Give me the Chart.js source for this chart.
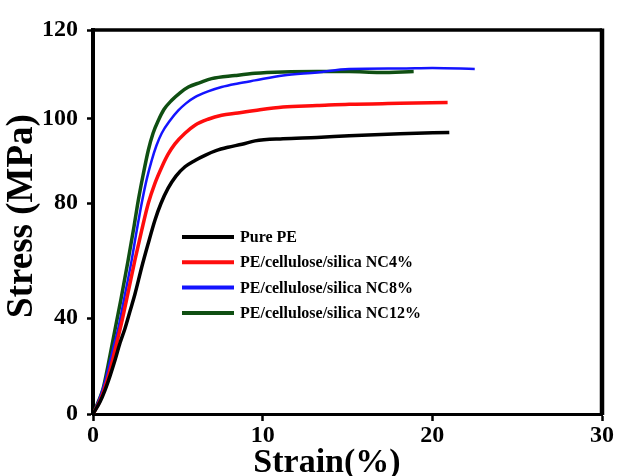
<!DOCTYPE html>
<html><head><meta charset="utf-8">
<script src="https://cdn.jsdelivr.net/npm/chart.js@4/dist/chart.umd.min.js"></script>
<style>html,body{margin:0;padding:0;background:#fff;}canvas{display:block;}</style>
</head><body>
<canvas id="c" width="617" height="476"></canvas>
<script>
// ---- data ----
const seriesLabels = ['Pure PE', 'PE/cellulose/silica NC4%', 'PE/cellulose/silica NC8%', 'PE/cellulose/silica NC12%'];

const strainPurePE = [0, 0.41, 0.71, 1.0, 1.30, 1.59, 1.89, 2.18, 2.47, 2.87, 3.24, 3.65, 4.01, 4.42, 4.89, 5.42, 6.01, 6.60, 7.25, 7.96, 8.78, 9.55, 11.2, 13.2, 15.1, 18.1, 21.0];
const stressPurePE = [0, 5.0, 10.0, 15.8, 22.5, 29.6, 35.8, 42.4, 48.3, 57.7, 65.7, 74.1, 80.0, 83.5, 86.4, 88.6, 90.1, 91.3, 92.4, 93.2, 93.9, 94.7, 95.2, 95.5, 95.9, 96.4, 96.7];

const strainNC4 = [0, 0.35, 0.65, 0.94, 1.18, 1.41, 1.68, 2.06, 2.47, 2.86, 3.26, 3.65, 4.05, 4.42, 4.83, 5.42, 6.01, 6.78, 7.58, 8.54, 9.55, 11.2, 13.2, 15.1, 18.1, 20.9];
const stressNC4 = [0, 4.6, 10.0, 16.7, 23.3, 30.0, 37.9, 48.7, 60.2, 70.3, 80.0, 84.7, 88.5, 91.5, 94.0, 96.5, 98.4, 99.8, 100.7, 101.2, 101.8, 102.6, 102.9, 103.2, 103.4, 103.6];

const strainNC8 = [0, 0.35, 0.65, 0.94, 1.21, 1.49, 1.83, 2.28, 2.56, 2.87, 3.15, 3.46, 3.74, 4.05, 4.54, 5.03, 5.48, 6.01, 6.78, 7.58, 8.54, 9.55, 11.2, 13.2, 15.1, 18.1, 20.0, 22.5];
const stressNC8 = [0, 5.8, 12.1, 20.0, 27.9, 35.8, 46.6, 60.2, 69.9, 80.0, 85.4, 90.1, 93.6, 96.5, 99.5, 101.8, 103.4, 104.8, 106.1, 107.1, 107.9, 108.6, 109.7, 110.4, 111.2, 111.3, 111.4, 111.2];

const strainNC12 = [0, 0.35, 0.59, 0.88, 1.12, 1.36, 1.65, 2.06, 2.42, 2.67, 2.95, 3.26, 3.54, 3.85, 4.18, 4.64, 5.13, 5.62, 6.31, 6.99, 8.37, 9.55, 11.2, 13.2, 15.1, 16.9, 18.9];
const stressNC12 = [0, 5.8, 10.4, 20.0, 28.75, 37.5, 46.6, 59.8, 72.0, 80.7, 86.6, 92.5, 96.5, 99.5, 102.0, 104.1, 105.8, 107.1, 108.1, 109.0, 109.7, 110.2, 110.5, 110.6, 110.6, 110.4, 110.6];

const xTickValues = [0, 10, 20, 30];
const yTickValues = [0, 40, 80, 100, 120];

// ---- axis layout (the original y axis has uneven tick spacing) ----
const Y_TICK_FRACTIONS = [0, 0.2497, 0.5488, 0.7698, 1];

function toFrac(v) {
  const t = yTickValues, f = Y_TICK_FRACTIONS;
  if (v <= t[0]) return f[0] + (v - t[0]) / (t[1] - t[0]) * (f[1] - f[0]);
  for (let i = 1; i < t.length; i++) {
    if (v <= t[i]) return f[i - 1] + (v - t[i - 1]) / (t[i] - t[i - 1]) * (f[i] - f[i - 1]);
  }
  const n = t.length - 1;
  return f[n] + (v - t[n]) / (t[n] - t[n - 1]) * (f[n] - f[n - 1]);
}
function fromFrac(d) {
  const t = yTickValues, f = Y_TICK_FRACTIONS;
  for (let i = 1; i < f.length; i++) {
    if (d <= f[i] || i === f.length - 1) return t[i - 1] + (d - f[i - 1]) / (f[i] - f[i - 1]) * (t[i] - t[i - 1]);
  }
}

class KnotLinearScale extends Chart.LinearScale {
  static id = 'knotLinear';
  buildTicks() { return yTickValues.map(v => ({ value: v })); }
  getPixelForValue(v) { return this.getPixelForDecimal(toFrac(v)); }
  getValueForPixel(p) { return fromFrac(this.getDecimalForPixel(p)); }
}
Chart.register(KnotLinearScale);

const pts = (xs, ys) => xs.map((x, i) => ({ x: x, y: ys[i] }));
const colors = ['#000000', '#ff0d0d', '#1414ff', '#0f4f12'];
const widths = [3.5, 3.5, 2.5, 3.5];
const allData = [pts(strainPurePE, stressPurePE), pts(strainNC4, stressNC4), pts(strainNC8, stressNC8), pts(strainNC12, stressNC12)];

const FONT = "'Liberation Serif', 'Times New Roman', serif";

const decor = {
  id: 'decor',
  afterDraw(chart) {
    const ctx = chart.ctx, a = chart.chartArea;
    ctx.save();
    // frame top/right
    ctx.strokeStyle = '#000';
    ctx.lineWidth = 3.5;
    ctx.beginPath();
    ctx.moveTo(a.left - 2, a.top);
    ctx.lineTo(a.right, a.top);
    ctx.stroke();
    ctx.lineWidth = 4.5;
    ctx.beginPath();
    ctx.moveTo(a.right, a.top - 1.5);
    ctx.lineTo(a.right, a.bottom + 1);
    ctx.stroke();
    // axis titles
    ctx.fillStyle = '#000';
    const xt = chart.options.scales.x.title.text;
    ctx.font = 'bold 34px ' + FONT;
    ctx.textAlign = 'center';
    ctx.textBaseline = 'alphabetic';
    ctx.fillText(xt, 327, 472);
    const yt = chart.options.scales.y.title.text;
    ctx.translate(22, 216);
    ctx.rotate(-Math.PI / 2);
    ctx.font = 'bold 37px ' + FONT;
    ctx.textBaseline = 'middle';
    ctx.fillText(yt, 0, 0);
    ctx.setTransform(1, 0, 0, 1, 0, 0);
    // legend
    ctx.font = 'bold 16px ' + FONT;
    ctx.textAlign = 'left';
    ctx.textBaseline = 'middle';
    chart.data.datasets.forEach((ds, i) => {
      const y = 237 + i * 25.3;
      ctx.strokeStyle = ds.borderColor;
      ctx.lineWidth = 4;
      ctx.beginPath();
      ctx.moveTo(182, y);
      ctx.lineTo(234, y);
      ctx.stroke();
      ctx.fillStyle = '#000';
      ctx.fillText(ds.label, 240, y + 1);
    });
    ctx.restore();
  }
};

new Chart(document.getElementById('c'), {
  type: 'line',
  data: {
    datasets: seriesLabels.map((l, i) => ({
      label: l,
      data: allData[i],
      borderColor: colors[i],
      backgroundColor: colors[i],
      borderWidth: widths[i],
      pointRadius: 0,
      cubicInterpolationMode: 'monotone',
      fill: false
    }))
  },
  options: {
    responsive: false,
    devicePixelRatio: 1,
    animation: false,
    layout: { padding: { left: 0, right: 15, top: 30, bottom: 0 } },
    plugins: { legend: { display: false }, tooltip: { enabled: false } },
    scales: {
      x: {
        type: 'linear',
        min: 0, max: 30,
        afterBuildTicks: s => { s.ticks = xTickValues.map(v => ({ value: v })); },
        afterFit: s => { s.height = 62; },
        grid: { drawOnChartArea: false, drawTicks: true, tickLength: 7, tickWidth: 2.5, tickColor: '#000' },
        border: { display: true, color: '#000', width: 3 },
        ticks: { color: '#000', padding: 0, font: { family: FONT, weight: 'bold', size: 24 } },
        title: { display: false, text: 'Strain(%)' }
      },
      y: {
        type: 'knotLinear',
        min: 0, max: 120,
        afterFit: s => { s.width = 93; },
        grid: { drawOnChartArea: false, drawTicks: true, tickLength: 6, tickWidth: 2.5, tickColor: '#000' },
        border: { display: true, color: '#000', width: 4 },
        ticks: { color: '#000', padding: 9, font: { family: FONT, weight: 'bold', size: 24 } },
        title: { display: false, text: 'Stress (MPa)' }
      }
    }
  },
  plugins: [decor]
});
</script>
</body></html>
